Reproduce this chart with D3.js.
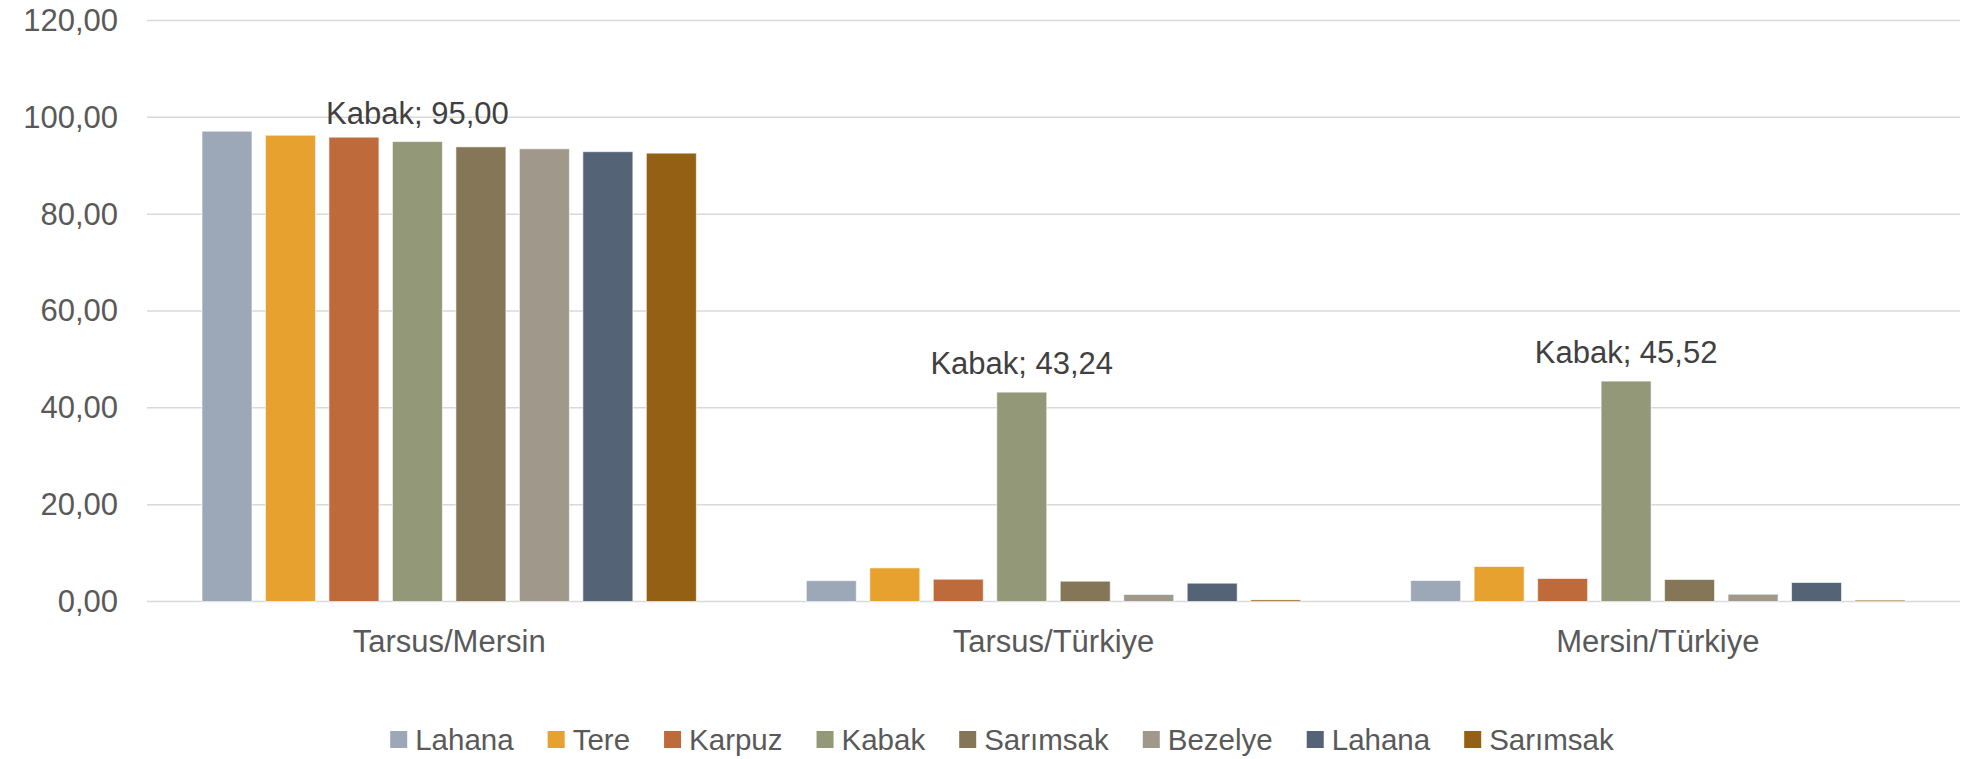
<!DOCTYPE html>
<html>
<head>
<meta charset="utf-8">
<script src="https://cdn.jsdelivr.net/npm/d3@7"></script>
<style>
  html, body { margin: 0; padding: 0; background: #fff; }
  svg { display: block; font-family: "Liberation Sans", Arial, sans-serif; }
</style>
</head>
<body>
<svg id="chart" width="1962" height="759"></svg>
<script>
// ---- data ----
const categories = ["Tarsus/Mersin", "Tarsus/Türkiye", "Mersin/Türkiye"];
const seriesNames = ["Lahana", "Tere", "Karpuz", "Kabak", "Sarımsak", "Bezelye", "Lahana", "Sarımsak"];
const seriesColors = ["#9CA8B8", "#E6A12F", "#BE6A3B", "#939879", "#857657", "#A1988C", "#546375", "#946014"];
const valuesLahana1   = [97.13, 4.30, 4.33];
const valuesTere      = [96.30, 6.94, 7.23];
const valuesKarpuz    = [95.90, 4.60, 4.75];
const valuesKabak     = [95.00, 43.24, 45.52];
const valuesSarimsak1 = [93.90, 4.19, 4.54];
const valuesBezelye   = [93.50, 1.45, 1.50];
const valuesLahana2   = [92.90, 3.78, 3.92];
const valuesSarimsak2 = [92.60, 0.33, 0.27];
const yTicks = [0, 20, 40, 60, 80, 100, 120];
const labelSeriesIndex = 3; // Kabak gets data labels

const allValues = [valuesLahana1, valuesTere, valuesKarpuz, valuesKabak,
                   valuesSarimsak1, valuesBezelye, valuesLahana2, valuesSarimsak2];

// ---- layout ----
const svg = d3.select("#chart");
const margin = { left: 147, right: 2, top: 20.5, bottom: 157.5 };
const W = 1962, H = 759;
const plotL = margin.left, plotR = W - margin.right;
const plotT = margin.top, plotB = H - margin.bottom;

const fmt = v => d3.format(".2f")(v).replace(".", ",");

const y = d3.scaleLinear().domain([0, 120]).range([plotB, plotT]);
const x0 = d3.scaleBand().domain(categories).range([plotL, plotR]).padding(0);
const bw = x0.bandwidth();
const x1 = d3.scaleBand().domain(d3.range(seriesNames.length))
  .range([bw * 0.091, bw * (1 - 0.091)]).paddingInner(0.2126).paddingOuter(0);

const textColor = "#595959";

// gridlines
svg.append("g").selectAll("line").data(yTicks).join("line")
  .attr("x1", plotL).attr("x2", plotR)
  .attr("y1", d => y(d)).attr("y2", d => y(d))
  .attr("stroke", "#D9D9D9").attr("stroke-width", 1.5);

// y axis labels
const yAxis = d3.axisLeft(y).tickValues(yTicks).tickFormat(fmt).tickSize(0).tickPadding(29);
const gy = svg.append("g").attr("transform", `translate(${plotL},0)`).call(yAxis);
gy.select(".domain").remove();
gy.selectAll("text").attr("fill", textColor).attr("font-size", 31)
  .attr("font-family", "Liberation Sans, Arial, sans-serif");

// x axis labels
const xAxis = d3.axisBottom(x0).tickSize(0).tickPadding(0);
const gx = svg.append("g").attr("transform", `translate(0,${plotB})`).call(xAxis);
gx.select(".domain").remove();
gx.selectAll("text").attr("fill", textColor).attr("font-size", 31)
  .attr("font-family", "Liberation Sans, Arial, sans-serif")
  .attr("dy", 0).attr("y", 50);

// bars
const groups = svg.append("g").selectAll("g").data(categories).join("g")
  .attr("transform", d => `translate(${x0(d)},0)`);

groups.selectAll("rect")
  .data((c, ci) => allValues.map((vals, si) => ({ si, v: vals[ci] })))
  .join("rect")
  .attr("x", d => x1(d.si))
  .attr("width", x1.bandwidth())
  .attr("y", d => y(d.v))
  .attr("height", d => plotB - y(d.v))
  .attr("fill", d => seriesColors[d.si])
  .attr("stroke", "#ffffff").attr("stroke-opacity", 0.6).attr("stroke-width", 1);

// data labels for Kabak
groups.append("text")
  .datum((c, ci) => ({ v: valuesKabak[ci] }))
  .attr("x", x1(labelSeriesIndex) + x1.bandwidth() / 2)
  .attr("y", d => y(d.v) - 18)
  .attr("text-anchor", "middle")
  .attr("font-size", 31)
  .attr("fill", "#404040")
  .text(d => `${seriesNames[labelSeriesIndex]}; ${fmt(d.v)}`);

// legend
const legend = svg.append("g");
const items = legend.selectAll("g").data(seriesNames.map((n, i) => ({ n, i }))).join("g");
items.append("rect").attr("width", 17).attr("height", 17).attr("y", 731)
  .attr("fill", d => seriesColors[d.i]);
items.append("text").attr("x", 25).attr("y", 750)
  .attr("font-size", 29.5).attr("fill", textColor).text(d => d.n);
let cx = 0;
const pos = [];
items.each(function () {
  const w = this.querySelector("text").getComputedTextLength();
  pos.push(cx);
  cx += 25 + w + 34;
});
const total = cx - 34;
const startX = 1002 - total / 2;
items.attr("transform", (d, i) => `translate(${startX + pos[i]},0)`);
</script>
</body>
</html>
